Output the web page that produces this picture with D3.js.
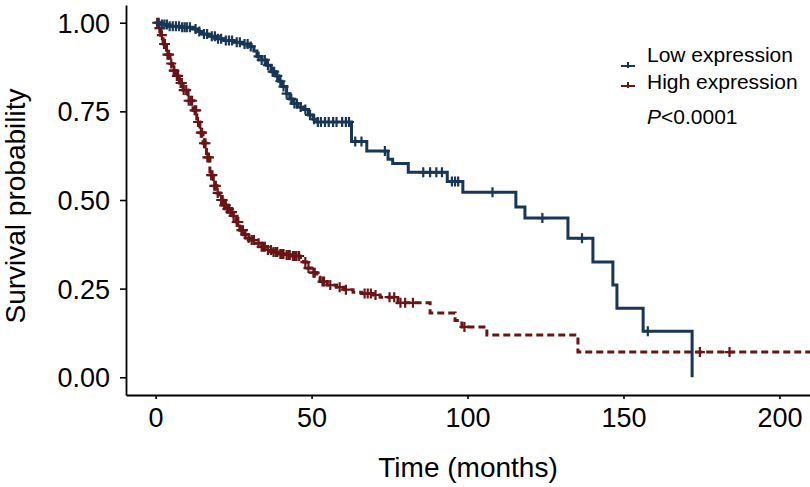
<!DOCTYPE html>
<html>
<head>
<meta charset="utf-8">
<script src="https://cdn.jsdelivr.net/npm/d3@7"></script>
<style>
  html, body { margin: 0; padding: 0; background: #fff; }
  svg { display: block; font-family: "Liberation Sans", Arial, sans-serif; }
</style>
</head>
<body>
<svg id="chart" width="810" height="487"></svg>
<script>
// ---------- data ----------
const seriesNames = ["Low expression", "High expression"];
const pValueLabel = "P<0.0001";
const xTicks = [0, 50, 100, 150, 200];
const yTicks = [0, 0.25, 0.5, 0.75, 1.0];

// Low expression: [time, survival after event]
const lowSteps = [
  [0, 1.0], [1.5, 0.995], [4, 0.99], [8, 0.987], [12, 0.982], [13.5, 0.975],
  [15, 0.968], [17, 0.962], [19.5, 0.955], [22, 0.95], [25, 0.945], [28, 0.94],
  [30.3, 0.933], [31.5, 0.92], [32.5, 0.905], [34, 0.895], [35.5, 0.88],
  [37, 0.862], [38.5, 0.85], [39.5, 0.835], [40.5, 0.82], [42, 0.80],
  [43, 0.785], [44, 0.772], [45.5, 0.762], [47.5, 0.755], [49, 0.74],
  [50.5, 0.728], [51.7, 0.72], [62.8, 0.665], [67.7, 0.638], [74.5, 0.615],
  [76, 0.603], [81, 0.578], [93.5, 0.552], [98.5, 0.522], [115.5, 0.48],
  [118.4, 0.449], [132.2, 0.392], [140.2, 0.325], [146.6, 0.26], [147.9, 0.195],
  [156.3, 0.13], [172, 0.0]
];
const lowEnd = 172;
const lowCensor = [
  1, 2, 2.8, 3.6, 4.5, 5.5, 6.5, 7.5, 8.5, 9.3, 10, 11, 12.8, 14, 15.5, 16.5,
  18, 19, 20, 21, 22.5, 23.5, 24.5, 26, 27, 28.5, 29.5, 30.5, 33, 34, 35,
  36, 37.5, 38, 39, 40, 41, 42, 43.5, 44.5, 45.3, 46.5, 48, 49.5, 50.8, 52,
  53, 54.3, 55.5, 56.9, 58, 59.8, 61, 62, 64, 66, 73.5, 85.8, 88, 90, 91.8,
  95, 96, 97, 108, 124, 136.7, 157.8
];

// High expression: [time, survival after event]
const highSteps = [
  [0, 1.0], [0.8, 0.985], [1.6, 0.965], [2.4, 0.94], [3.5, 0.91], [4.6, 0.885],
  [5.5, 0.865], [6.5, 0.85], [7.6, 0.83], [8.8, 0.81], [10.4, 0.78], [12, 0.753],
  [13.2, 0.72], [14.2, 0.69], [15.2, 0.66], [16.3, 0.62], [17.4, 0.57],
  [18.5, 0.54], [19.6, 0.52], [20.6, 0.50], [21.7, 0.485], [22.8, 0.475],
  [23.8, 0.466], [24.8, 0.455], [25.8, 0.438], [27, 0.415], [28.2, 0.402],
  [29.3, 0.393], [30.3, 0.387], [32, 0.378], [33.8, 0.368], [35.6, 0.359],
  [37.5, 0.353], [39.5, 0.348], [41.5, 0.345], [43.5, 0.342], [46.3, 0.338],
  [47.4, 0.325], [48.5, 0.308], [50, 0.295], [51.7, 0.282], [52.7, 0.27],
  [55, 0.26], [58, 0.254], [60.5, 0.247], [63.3, 0.24], [66, 0.236],
  [69.7, 0.232], [72, 0.226], [77.7, 0.21], [88, 0.181], [96, 0.16],
  [98.2, 0.142], [106.2, 0.119], [135.4, 0.071]
];
const highEnd = 210;
const highCensor = [
  0.5, 1.2, 2, 2.7, 3, 3.8, 4.3, 5, 5.8, 6, 6.8, 7.2, 8, 8.4, 9, 9.8, 10.6,
  11.2, 11.7, 12.5, 13, 13.6, 14.5, 14.9, 15.5, 16, 16.6, 17.1, 17.8, 18.2,
  18.8, 19.3, 19.9, 21, 21.5, 22, 22.5, 23, 23.5, 24, 24.5, 25, 26, 26.5,
  27.5, 28, 28.8, 29.8, 30.8, 31.5, 33, 34, 34.5, 35, 36, 37, 37.8, 38.5,
  39, 40, 40.5, 41, 42, 42.6, 43, 44, 44.6, 45, 45.8, 46, 48, 49, 50.6,
  51, 53.5, 54, 56, 59, 61, 67, 68, 69, 70.5, 75, 76.5, 78.5, 80, 82.5,
  99, 174.5, 184
];

// ---------- layout ----------
const colors = ["#183656", "#6a1515"];
const svg = d3.select("#chart");
const x = d3.scaleLinear().domain([-9.5, 209.8]).range([126, 810]);
const y = d3.scaleLinear().domain([-0.05, 1.05]).range([395, 5]);

// axes
const xAxis = svg.append("g")
  .attr("transform", "translate(0,395)")
  .call(d3.axisBottom(x).tickValues(xTicks).tickSize(4).tickPadding(5).tickSizeOuter(0));
const yAxis = svg.append("g")
  .attr("transform", "translate(126,0)")
  .call(d3.axisLeft(y).tickValues(yTicks).tickFormat(d3.format(".2f")).tickSize(6).tickPadding(10).tickSizeOuter(0));

[xAxis, yAxis].forEach(g => {
  g.select(".domain").attr("stroke", "#000").attr("stroke-width", 1.8);
  g.selectAll(".tick line").attr("stroke", "#000").attr("stroke-width", 1.6);
  g.selectAll(".tick text").attr("fill", "#000")
    .style("font-family", '"Liberation Sans", Arial, sans-serif')
    .style("font-size", "27px");
});
xAxis.selectAll(".tick text").attr("dy", "0.75em").attr("y", 12);
yAxis.selectAll(".tick text").attr("dy", "0.35em");

// axis titles
svg.append("text")
  .attr("x", 468).attr("y", 477)
  .attr("text-anchor", "middle")
  .style("font-size", "28px")
  .text("Time (months)");
svg.append("text")
  .attr("transform", "translate(25,206) rotate(-90)")
  .attr("text-anchor", "middle")
  .style("font-size", "28px")
  .text("Survival probability");

// curves
const line = d3.line().x(d => x(d[0])).y(d => y(d[1])).curve(d3.curveStepAfter);
function survAt(steps, t) {
  let s = steps[0][1];
  for (const st of steps) { if (st[0] <= t) s = st[1]; else break; }
  return s;
}
function curvePoints(steps, end) {
  const pts = steps.slice();
  const last = pts[pts.length - 1];
  if (last[0] < end) pts.push([end, last[1]]);
  return pts;
}

const plot = svg.append("g");
const series = [
  { steps: highSteps, end: highEnd, censor: highCensor, color: colors[1], dash: "7,4" },
  { steps: lowSteps, end: lowEnd, censor: lowCensor, color: colors[0], dash: null }
];

series.forEach(sr => {
  plot.append("path")
    .datum(curvePoints(sr.steps, sr.end))
    .attr("d", line)
    .attr("fill", "none")
    .attr("stroke", sr.color)
    .attr("stroke-width", 3)
    .attr("stroke-dasharray", sr.dash);
  const cs = 5;
  plot.append("g").selectAll("path")
    .data(sr.censor)
    .join("path")
    .attr("d", t => {
      const cx = x(t), cy = y(survAt(sr.steps, t));
      return `M${cx - cs},${cy}H${cx + cs}M${cx},${cy - cs}V${cy + cs}`;
    })
    .attr("stroke", sr.color)
    .attr("stroke-width", 2.2)
    .attr("fill", "none");
});

// legend
const legend = svg.append("g");
const legY = [66, 86];
const legTextY = [62, 89];
seriesNames.forEach((name, i) => {
  legend.append("line")
    .attr("x1", 621).attr("x2", 635).attr("y1", legY[i]).attr("y2", legY[i])
    .attr("stroke", colors[i]).attr("stroke-width", 2);
  legend.append("path")
    .attr("d", `M628,${legY[i] - 4}V${legY[i] + 2}`)
    .attr("stroke", colors[i]).attr("stroke-width", 2);
  legend.append("text")
    .attr("x", 647).attr("y", legTextY[i])
    .style("font-size", "21px")
    .text(name);
});
const pText = svg.append("text")
  .attr("x", 647).attr("y", 124)
  .style("font-size", "21px");
pText.append("tspan").style("font-style", "italic").text(pValueLabel.slice(0, 1));
pText.append("tspan").text(pValueLabel.slice(1));
</script>
</body>
</html>
